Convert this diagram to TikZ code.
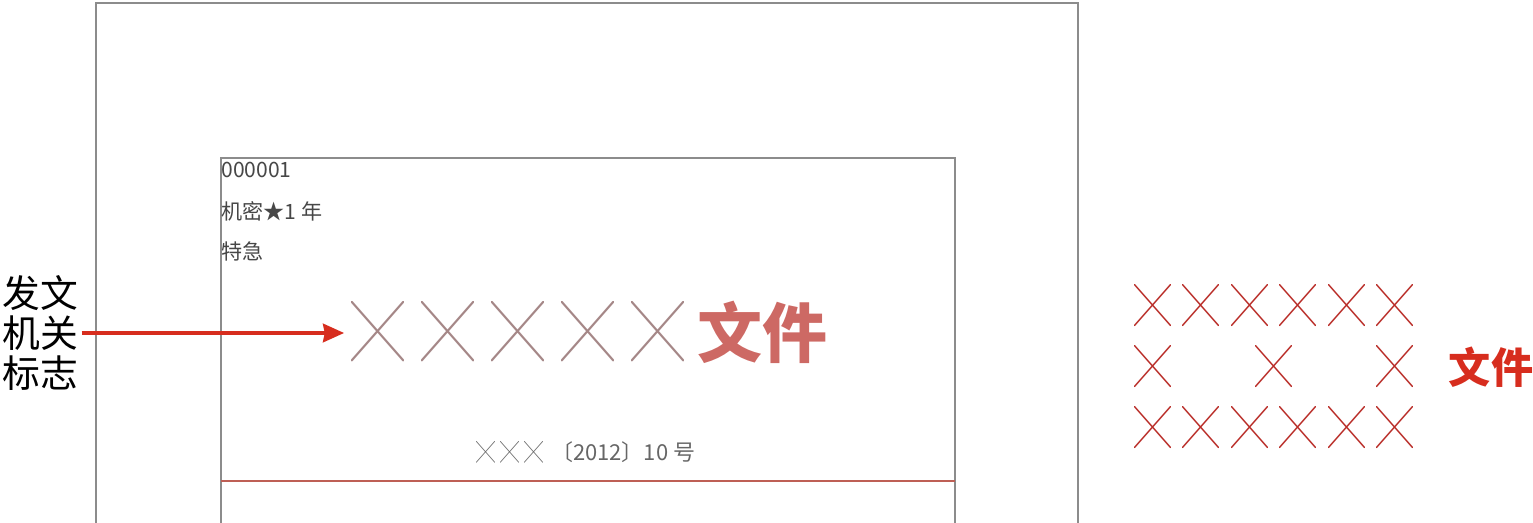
\documentclass[tikz,border=0pt]{standalone}
\usepackage{fontspec}
\newfontfamily\cjk{Noto Sans CJK SC}
\usetikzlibrary{arrows.meta,positioning}

\definecolor{frame}{RGB}{140,140,140}
\definecolor{crossgray}{RGB}{165,135,135}
\definecolor{titlered}{RGB}{205,105,100}
\definecolor{arrowred}{RGB}{215,45,30}
\definecolor{sampred}{RGB}{185,45,40}
\definecolor{rulered}{RGB}{190,95,85}

\newcommand{\bigx}[1]{\resizebox{#1}{#1}{\cjk ╳}}

\begin{document}
\begin{tikzpicture}[x=0.02cm,y=-0.02cm,>={Stealth[length=12pt,width=10.5pt,inset=1pt]},
  pg/.style={draw=frame,line width=0.8pt},
  hdr/.style={font=\fontsize{12}{14}\selectfont\cjk,text=black!72,anchor=west,inner sep=0pt},
  mk/.style={inner sep=0pt},
]
\useasboundingbox (0,0) rectangle (1533,523);

% ------------------------------------------------------------------
% page and type area (bottom cut off)
% ------------------------------------------------------------------
\draw[pg] (96,523) -- (96,3) -- (1078,3) -- (1078,523);
\draw[pg] (221,523) -- (221,158) -- (955,158) -- (955,523);
\draw[rulered,line width=1pt] (221,481) -- (955,481);

\node[hdr] (num) at (221,170) {000001};
\node[hdr] (sec) at (221,211) {机密★1 年};
\node[hdr] (urg) at (221,251) {特急};

% issuing authority mark
\foreach \i in {1,...,5}
  \node[mk,text=crossgray] (x\i) at ({378+70*(\i-1)},332) {\bigx{1.06cm}};
\node[mk,font=\fontsize{37}{40}\selectfont\cjk\bfseries,text=titlered] (wj) at (762,332) {文件};

\node[text=black!60,font=\fontsize{12.5}{14}\selectfont\cjk] (docno) at (586,452)
  {\bigx{0.38cm}\hspace{0.1cm}\bigx{0.38cm}\hspace{0.1cm}\bigx{0.38cm}\hspace{0.15cm}〔2012〕10 号};

% label + arrow
\node[mk,align=left,font=\fontsize{21.5}{22.7}\selectfont\cjk] (org) at (40,333) {发文\\机关\\标志};
\draw[->,arrowred,line width=2.2pt,shorten >=4pt,shorten <=2pt] (org.east) -- (org.east -| x1.west);

% ------------------------------------------------------------------
% sample layout on the right
% ------------------------------------------------------------------
\foreach \c in {0,...,5} {
  \node[mk,text=sampred] (t\c) at ({1153+48.4*\c},306) {\bigx{0.74cm}};
  \node[mk,text=sampred] (b\c) at ({1153+48.4*\c},428) {\bigx{0.74cm}};
}
\foreach \c in {0,1,2}
  \node[mk,text=sampred] (m\c) at ({1153+121*\c},367) {\bigx{0.74cm}};
\node[mk,font=\fontsize{24}{26}\selectfont\cjk\bfseries,text=arrowred] (wj2) at (1491,367) {文件};

\end{tikzpicture}
\end{document}
